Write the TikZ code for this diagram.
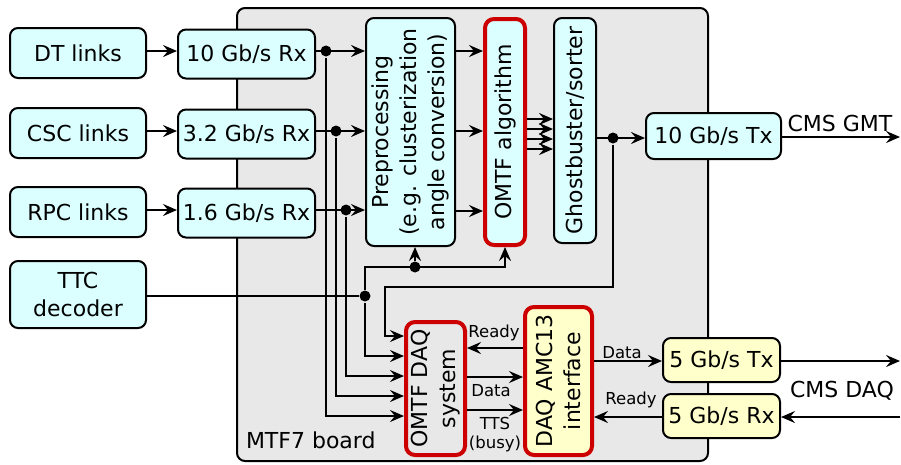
\documentclass[tikz,border=0pt]{standalone}
\usepackage{fontspec}
\setmainfont{DejaVu Sans}
\usetikzlibrary{arrows.meta}
\definecolor{cy}{HTML}{DBFFFF}
\definecolor{bd}{HTML}{E8E8E8}
\definecolor{yl}{HTML}{FFFFCC}
\definecolor{rd}{HTML}{CC0000}
\begin{document}
\begin{tikzpicture}[x=1pt,y=-1pt,line width=2pt,
  font=\fontsize{22}{28}\selectfont,
  cbox/.style={draw, fill=cy, rounded corners=8pt, inner sep=0pt, align=center},
  ybox/.style={draw, fill=yl, rounded corners=8pt, inner sep=0pt, align=center},
  rbox/.style={draw=rd, line width=4pt, rounded corners=9pt, inner sep=0pt},
  rtext/.style={rotate=90, align=center, inner sep=0pt},
  arr/.style={-{Stealth[length=14pt,width=12pt,inset=5pt]}},
  jdot/.style={circle, fill, inner sep=0pt, minimum size=11pt},
  small/.style={font=\fontsize{16.5}{19}\selectfont, inner sep=0pt}]
\useasboundingbox (0,0) rectangle (901,464);
% board
\node[draw, fill=bd, rounded corners=8pt, minimum width=471pt, minimum height=453pt, inner sep=0pt] (board) at (472.5,234.5) {};
\node[anchor=base west, inner sep=0pt] (boardl) at (245,448) {MTF7 board};
% inputs
\node[cbox, minimum width=136pt, minimum height=50pt] (dt) at (78,53) {DT links};
\node[cbox, minimum width=136pt, minimum height=50pt] (csc) at (78,133) {CSC links};
\node[cbox, minimum width=136pt, minimum height=50pt] (rpc) at (78,212) {RPC links};
\node[cbox, minimum width=136pt, minimum height=67pt] (ttc) at (78,294.5) {TTC\\decoder};
% receivers
\node[cbox, minimum width=137pt, minimum height=49pt] (rx1) at (246.5,54) {10 Gb/s Rx};
\node[cbox, minimum width=137pt, minimum height=49pt] (rx2) at (246.5,134) {3.2 Gb/s Rx};
\node[cbox, minimum width=137pt, minimum height=49pt] (rx3) at (246.5,213) {1.6 Gb/s Rx};
% processing
\node[cbox, minimum width=89pt, minimum height=228pt] (pre) at (410.5,132) {};
\node[rtext] (pret) at (pre.center) {Preprocessing\\(e.g. clusterization\\angle conversion)};
\node[rbox, fill=cy, minimum width=40pt, minimum height=226pt] (omtf) at (505,132) {};
\node[rtext] (omtft) at (omtf.center) {OMTF algorithm};
\node[cbox, minimum width=42pt, minimum height=225pt] (ghost) at (575,130.5) {};
\node[rtext] (ghostt) at (ghost.center) {Ghostbuster/sorter};
\node[cbox, minimum width=135pt, minimum height=46pt] (tx10) at (713.5,136) {10 Gb/s Tx};
% DAQ
\node[rbox, fill=bd, minimum width=59pt, minimum height=133pt] (daq) at (435.5,388.5) {};
\node[rtext] (daqt) at (daq.center) {OMTF DAQ\\system};
\node[rbox, fill=yl, minimum width=67pt, minimum height=148pt] (amc) at (558.5,381) {};
\node[rtext] (amct) at (amc.center) {DAQ AMC13\\interface};
\node[ybox, minimum width=117pt, minimum height=44pt] (tx5) at (721.5,360) {5 Gb/s Tx};
\node[ybox, minimum width=117pt, minimum height=44pt] (rx5) at (721.5,416) {5 Gb/s Rx};
% junctions
\node[jdot] (j1) at (326,51) {};
\node[jdot] (j2) at (336,131) {};
\node[jdot] (j3) at (346,210) {};
\node[jdot] (j4) at (365,296) {};
\node[jdot] (j5) at (415,267) {};
\node[jdot] (j6) at (613,138) {};
\coordinate (t1) at (365,267);
\coordinate (g1) at (613,287);
\coordinate (g2) at (385,336);
\coordinate (gmt) at (900,137);
\coordinate (dout) at (900,361);
\coordinate (din) at (900,417);
% input arrows
\draw[arr] (dt.east |- j1) -- (rx1.west |- j1);
\draw[arr] (csc.east |- j2) -- (rx2.west |- j2);
\draw[arr] (rpc.east |- j3) -- (rx3.west |- j3);
\draw[arr] (rx1.east |- j1) -- (pre.west |- j1);
\draw[arr] (rx2.east |- j2) -- (pre.west |- j2);
\draw[arr] (rx3.east |- j3) -- (pre.west |- j3);
\draw[arr] (pre.east |- j1) -- (omtf.west |- j1);
\draw[arr] (pre.east |- j2) -- (omtf.west |- j2);
\draw[arr] (pre.east |- 0,211) -- (omtf.west |- 0,211);
\foreach \yy in {119,129,139,149}
  \draw[arr] (omtf.east |- 0,\yy) -- (ghost.west |- 0,\yy);
\draw[arr] (ghost.east |- j6) -- (tx10.west |- j6);
\draw[arr] (tx10.east |- gmt) -- (gmt);
\node[anchor=base, inner sep=0pt] (gmtl) at (840,131) {CMS GMT};
% to DAQ
\draw[arr] (j1) |- (daq.west |- 0,416);
\draw[arr] (j2) |- (daq.west |- 0,396);
\draw[arr] (j3) |- (daq.west |- 0,376);
\draw (ttc.east |- j4) -- (j4);
\draw[arr] (j4) |- (daq.west |- 0,356);
\draw[arr] (j4) -- (t1) -| (omtf.south);
\draw[arr] (j5) -- (pre.south -| j5);
\draw[arr] (j6) -- (g1) -| (g2) -- (daq.west |- g2);
% DAQ <-> AMC13
\draw[arr] (amc.west |- 0,348) -- (daq.east |- 0,348);
\node[small, anchor=base] (rdy1) at (494,337) {Ready};
\draw[arr] (daq.east |- 0,377) -- (amc.west |- 0,377);
\node[small, anchor=base] (dat1) at (491,396) {Data};
\draw[arr] (daq.east |- 0,410) -- (amc.west |- 0,410);
\node[small, anchor=base] (tts) at (495,429) {TTS};
\node[small, anchor=base] (busy) at (495,448) {(busy)};
% AMC13 <-> links
\draw[arr] (amc.east |- dout) -- (tx5.west |- dout);
\node[small, anchor=base] (dat2) at (622,358) {Data};
\draw[arr] (rx5.west |- din) -- (amc.east |- din);
\node[small, anchor=base] (rdy2) at (631,404) {Ready};
\draw[arr] (tx5.east |- dout) -- (dout);
\draw[arr] (din) -- (rx5.east |- din);
\node[anchor=base, inner sep=0pt] (daql) at (842,397) {CMS DAQ};
\end{tikzpicture}
\end{document}
